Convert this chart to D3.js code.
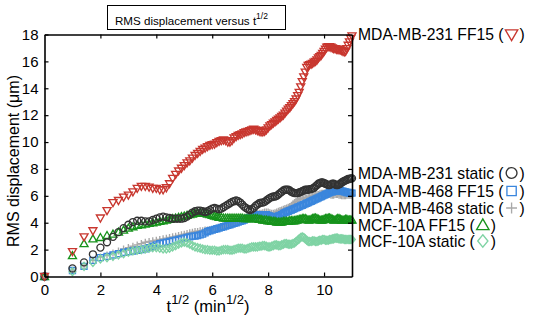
<!doctype html>
<html lang="en">
<head>
<meta charset="utf-8">
<title>RMS displacement versus t1/2</title>
<script src="https://cdnjs.cloudflare.com/ajax/libs/d3/7.8.5/d3.min.js"></script>
<style>
	body { margin: 0; background: #fff; }
	text { font-family: "Liberation Sans", Arial, sans-serif; fill: #000; }
	.axis path, .axis line { stroke: #000; }
	.tick text { font-size: 15px; }
	.mark { fill: none; stroke-width: 1.35; }
</style>
</head>
<body>
<div id="viz"></div>
<script>

// DATA
// sampling times (min), one frame per minute
var minutes = d3.range(0, 122);

var seriesNames = [
	"MDA-MB-231 FF15",
	"MDA-MB-231 static",
	"MDA-MB-468 FF15",
	"MDA-MB-468 static",
	"MCF-10A FF15",
	"MCF-10A static"
];

// RMS displacement (um) at each minute
var mda231FF15 = [0, 1.85, 2.95, 3.4, 4.35, 4.9, 5.5, 5.65, 5.9, 6.05,
	6.3, 6.55, 6.7, 6.7, 6.65, 6.55, 6.55, 6.45, 6.45, 6.6,
	6.9, 7.3, 7.6, 7.85, 8.05, 8.25, 8.45, 8.6, 8.8, 9.0,
	9.15, 9.3, 9.45, 9.55, 9.65, 9.75, 9.8, 9.85, 9.95, 10.05,
	10.1, 10.15, 10.1, 10.0, 10.0, 10.1, 10.3, 10.4, 10.5, 10.55,
	10.6, 10.7, 10.75, 10.8, 10.85, 10.9, 10.95, 10.9, 10.85, 10.8,
	10.75, 10.75, 10.8, 10.9, 11.05, 11.2, 11.3, 11.4, 11.5, 11.6,
	11.7, 11.8, 11.9, 12.0, 12.15, 12.3, 12.45, 12.55, 12.7, 12.85,
	13.0, 13.2, 13.45, 13.7, 14.1, 14.5, 14.85, 15.2, 15.55, 15.7,
	15.75, 15.8, 15.85, 15.95, 16.0, 16.1, 16.25, 16.35, 16.45, 16.6,
	16.75, 16.9, 17.05, 17.1, 17.1, 17.05, 17.0, 16.95, 16.95, 16.9,
	16.9, 16.85, 16.85, 16.8, 16.75, 16.7, 16.75, 16.95, 17.2, 17.45,
	17.7, 17.9];

var mda231Static = [0, 0.6, 1.05, 1.65, 2.15, 2.55, 2.95, 3.3, 3.6, 3.85,
	4.05, 4.15, 4.15, 4.1, 4.1, 4.2, 4.3, 4.4, 4.45, 4.4,
	4.35, 4.3, 4.3, 4.3, 4.3, 4.35, 4.45, 4.6, 4.75, 4.85,
	4.9, 4.9, 4.85, 4.8, 4.85, 4.95, 5.05, 5.1, 5.05, 5.0,
	5.05, 5.15, 5.25, 5.35, 5.45, 5.55, 5.6, 5.65, 5.6, 5.5,
	5.35, 5.2, 5.1, 5.0, 4.95, 5.0, 5.1, 5.25, 5.35, 5.45,
	5.5, 5.5, 5.55, 5.65, 5.75, 5.85, 5.9, 5.95, 5.95, 6.0,
	6.1, 6.2, 6.3, 6.4, 6.45, 6.45, 6.45, 6.4, 6.3, 6.25,
	6.2, 6.2, 6.2, 6.25, 6.3, 6.35, 6.4, 6.45, 6.45, 6.45,
	6.5, 6.5, 6.55, 6.6, 6.7, 6.8, 6.9, 6.95, 7.0, 7.0,
	6.95, 6.9, 6.85, 6.8, 6.8, 6.85, 6.9, 6.9, 6.85, 6.8,
	6.8, 6.85, 6.9, 7.0, 7.05, 7.1, 7.15, 7.2, 7.25, 7.25,
	7.3, 7.3];

var mda468FF15 = [0, 0.45, 0.75, 1.2, 1.4, 1.5, 1.6, 1.7, 1.8, 1.85,
	1.9, 1.95, 2.0, 2.05, 2.15, 2.25, 2.35, 2.45, 2.5, 2.55,
	2.6, 2.65, 2.7, 2.75, 2.8, 2.85, 2.9, 2.95, 3.0, 3.0,
	3.05, 3.1, 3.15, 3.25, 3.35, 3.4, 3.45, 3.5, 3.55, 3.6,
	3.65, 3.7, 3.75, 3.8, 3.85, 3.9, 3.95, 4.0, 4.05, 4.1,
	4.15, 4.2, 4.3, 4.35, 4.4, 4.45, 4.5, 4.55, 4.6, 4.6,
	4.6, 4.6, 4.6, 4.6, 4.55, 4.5, 4.45, 4.4, 4.4, 4.45,
	4.5, 4.55, 4.6, 4.7, 4.75, 4.8, 4.85, 4.9, 4.95, 5.0,
	5.05, 5.1, 5.15, 5.2, 5.25, 5.3, 5.35, 5.4, 5.45, 5.5,
	5.55, 5.6, 5.65, 5.7, 5.75, 5.8, 5.85, 5.9, 5.95, 6.0,
	6.05, 6.1, 6.15, 6.2, 6.25, 6.3, 6.3, 6.35, 6.35, 6.4,
	6.4, 6.4, 6.4, 6.35, 6.35, 6.3, 6.3, 6.25, 6.25, 6.2,
	6.2, 6.2];

var mda468Static = [0, 0.45, 0.8, 1.2, 1.45, 1.6, 1.75, 1.9, 2.05, 2.15,
	2.25, 2.35, 2.45, 2.55, 2.6, 2.65, 2.7, 2.75, 2.8, 2.85,
	2.9, 2.95, 3.0, 3.05, 3.1, 3.15, 3.2, 3.25, 3.3, 3.35,
	3.35, 3.4, 3.4, 3.45, 3.45, 3.5, 3.5, 3.55, 3.6, 3.65,
	3.7, 3.75, 3.8, 3.85, 3.9, 3.95, 4.0, 4.05, 4.1, 4.15,
	4.2, 4.25, 4.35, 4.45, 4.55, 4.6, 4.65, 4.7, 4.7, 4.7,
	4.7, 4.75, 4.8, 4.8, 4.8, 4.75, 4.7, 4.7, 4.75, 4.8,
	4.85, 4.9, 4.95, 5.0, 5.05, 5.1, 5.15, 5.2, 5.3, 5.4,
	5.5, 5.6, 5.7, 5.75, 5.8, 5.8, 5.8, 5.85, 5.85, 5.9,
	5.9, 5.95, 6.0, 6.0, 6.05, 6.1, 6.1, 6.15, 6.2, 6.2,
	6.2, 6.2, 6.15, 6.1, 6.1, 6.05, 6.05, 6.05, 6.1, 6.1,
	6.1, 6.05, 6.05, 6.0, 6.0, 6.0, 6.0, 6.05, 6.05, 6.05,
	6.05, 6.05];

var mcfFF15 = [0, 1.55, 2.45, 2.8, 2.9, 3.05, 3.15, 3.3, 3.45, 3.6,
	3.7, 3.8, 3.85, 3.9, 3.95, 4.0, 4.05, 4.1, 4.15, 4.2,
	4.25, 4.3, 4.35, 4.4, 4.45, 4.5, 4.55, 4.6, 4.65, 4.7,
	4.7, 4.75, 4.75, 4.7, 4.65, 4.6, 4.55, 4.5, 4.45, 4.4,
	4.4, 4.35, 4.35, 4.35, 4.35, 4.35, 4.35, 4.35, 4.35, 4.35,
	4.35, 4.3, 4.3, 4.3, 4.3, 4.3, 4.3, 4.3, 4.3, 4.25,
	4.25, 4.2, 4.2, 4.2, 4.15, 4.15, 4.1, 4.1, 4.1, 4.05,
	4.05, 4.05, 4.05, 4.1, 4.1, 4.1, 4.1, 4.15, 4.15, 4.15,
	4.15, 4.2, 4.2, 4.25, 4.25, 4.3, 4.3, 4.3, 4.25, 4.2,
	4.2, 4.25, 4.3, 4.35, 4.35, 4.3, 4.25, 4.2, 4.2, 4.2,
	4.25, 4.3, 4.3, 4.35, 4.35, 4.3, 4.25, 4.2, 4.2, 4.25,
	4.3, 4.3, 4.25, 4.2, 4.2, 4.2, 4.25, 4.25, 4.2, 4.2,
	4.2, 4.2];

var mcfStatic = [0, 0.35, 0.75, 1.05, 1.3, 1.4, 1.5, 1.6, 1.7, 1.8,
	1.9, 1.95, 2.0, 2.05, 2.1, 2.15, 2.15, 2.1, 2.05, 2.05,
	2.1, 2.2, 2.3, 2.4, 2.5, 2.55, 2.5, 2.4, 2.3, 2.2,
	2.15, 2.1, 2.05, 2.0, 2.0, 1.95, 1.95, 1.95, 1.9, 1.9,
	1.95, 2.0, 2.0, 2.0, 1.95, 1.95, 2.0, 2.05, 2.1, 2.1,
	2.1, 2.05, 2.05, 2.1, 2.15, 2.2, 2.2, 2.2, 2.2, 2.25,
	2.25, 2.3, 2.3, 2.25, 2.2, 2.2, 2.25, 2.3, 2.35, 2.35,
	2.3, 2.3, 2.35, 2.4, 2.45, 2.45, 2.4, 2.4, 2.4, 2.45,
	2.5, 2.6, 2.7, 2.8, 2.9, 2.95, 2.9, 2.8, 2.7, 2.6,
	2.6, 2.6, 2.65, 2.65, 2.6, 2.6, 2.65, 2.7, 2.7, 2.75,
	2.75, 2.7, 2.7, 2.7, 2.75, 2.75, 2.8, 2.8, 2.85, 2.85,
	2.85, 2.8, 2.8, 2.8, 2.8, 2.75, 2.75, 2.75, 2.75, 2.75,
	2.75, 2.75];

var xTicks = [0, 2, 4, 6, 8, 10];
var yTicks = [0, 2, 4, 6, 8, 10, 12, 14, 16, 18];


(function(scope, d3) {

	// Dimensions
	var w = 536,
		h = 323;
	var margin = {top: 34.5, right: 184, bottom: 46.5, left: 44.5};
	var width = w - margin.left - margin.right,
		height = h - margin.top - margin.bottom;

	// series table built from the arrays above
	var series = [
		{name: seriesNames[0], values: mda231FF15,   shape: "down",    color: "#c8372f", legendY: 40},
		{name: seriesNames[1], values: mda231Static, shape: "circle",  color: "#333333", legendY: 178.5},
		{name: seriesNames[2], values: mda468FF15,   shape: "square",  color: "#3a86dd", legendY: 196.5},
		{name: seriesNames[3], values: mda468Static, shape: "plus",    color: "#a9a9a9", legendY: 213.5},
		{name: seriesNames[4], values: mcfFF15,      shape: "up",      color: "#17931c", legendY: 230.5},
		{name: seriesNames[5], values: mcfStatic,    shape: "diamond", color: "#7fd3a4", legendY: 246.5}
	];
	// drawing order: back to front
	var drawOrder = [3, 2, 5, 4, 1, 0];

	// SYMBOLS (hollow markers, s = scale)
	function symbolPath(shape, s) {
		s = s || 1;
		var p = d3.path();
		if (shape === "down") {
			p.moveTo(-4 * s, -3 * s); p.lineTo(4 * s, -3 * s); p.lineTo(0, 4 * s); p.closePath();
		} else if (shape === "up") {
			p.moveTo(-4 * s, 3 * s); p.lineTo(4 * s, 3 * s); p.lineTo(0, -4 * s); p.closePath();
		} else if (shape === "circle") {
			p.arc(0, 0, 3.5 * s, 0, 2 * Math.PI);
		} else if (shape === "square") {
			p.rect(-3 * s, -3 * s, 6 * s, 6 * s);
		} else if (shape === "plus") {
			p.moveTo(-3.5 * s, 0); p.lineTo(3.5 * s, 0);
			p.moveTo(0, -3.5 * s); p.lineTo(0, 3.5 * s);
		} else if (shape === "diamond") {
			p.moveTo(0, -4 * s); p.lineTo(3.3 * s, 0); p.lineTo(0, 4 * s); p.lineTo(-3.3 * s, 0); p.closePath();
		}
		return p.toString();
	}

	// DRAWING AREA
	var svg = d3.select("#viz")
		.append("svg")
		.attr("width", w)
		.attr("height", h);

	var g = svg.append("g")
		.attr("transform", "translate(" + margin.left + "," + margin.top + ")");

	// SCALES
	var x = d3.scaleLinear().domain([0, 11]).range([0, width]);
	var y = d3.scaleLinear().domain([0, 18]).range([height, 0]);

	// MARKERS
	drawOrder.forEach(function(k) {
		var s = series[k];
		g.append("g")
			.selectAll("path")
			.data(minutes)
			.enter()
			.append("path")
			.attr("class", "mark")
			.attr("d", symbolPath(s.shape))
			.attr("stroke", s.color)
			.attr("transform", function(t, i) {
				return "translate(" + x(Math.sqrt(t)) + "," + y(s.values[i]) + ")";
			});
	});

	// AXES (box with inward ticks)
	var bottom = g.append("g").attr("class", "axis")
		.attr("transform", "translate(0," + height + ")")
		.call(d3.axisBottom(x).tickValues(xTicks).tickSizeInner(-4).tickSizeOuter(0).tickPadding(8));
	var top = g.append("g").attr("class", "axis")
		.call(d3.axisTop(x).tickValues(xTicks.slice(1)).tickSizeInner(-4).tickSizeOuter(0).tickFormat(""));
	var left = g.append("g").attr("class", "axis")
		.call(d3.axisLeft(y).tickValues(yTicks).tickSizeInner(-4).tickSizeOuter(0).tickPadding(6));
	var right = g.append("g").attr("class", "axis")
		.attr("transform", "translate(" + width + ",0)")
		.call(d3.axisRight(y).tickValues(yTicks.slice(1, -1)).tickSizeInner(-4).tickSizeOuter(0).tickFormat(""));

	g.selectAll(".axis path").attr("stroke-width", 1.6);
	g.selectAll(".axis line").attr("stroke-width", 1.2);
	g.selectAll(".axis .tick text").attr("fill", "#000");

	// AXIS TITLES
	svg.append("text")
		.attr("transform", "translate(19,161) rotate(-90)")
		.attr("text-anchor", "middle")
		.style("font-size", "16px")
		.text("RMS displacement (\u03bcm)");

	var xt = svg.append("text")
		.attr("x", 208)
		.attr("y", 312)
		.attr("text-anchor", "middle")
		.style("font-size", "16.5px");
	xt.append("tspan").text("t");
	xt.append("tspan").attr("dy", -8).style("font-size", "13px").text("1/2");
	xt.append("tspan").attr("dy", 8).text(" (min");
	xt.append("tspan").attr("dy", -8).style("font-size", "13px").text("1/2");
	xt.append("tspan").attr("dy", 8).text(")");

	// TITLE BOX
	svg.append("rect")
		.attr("x", 107.5)
		.attr("y", 5.5)
		.attr("width", 178)
		.attr("height", 24)
		.attr("fill", "#fff")
		.attr("stroke", "#000")
		.attr("stroke-width", 1);

	var tt = svg.append("text")
		.attr("x", 115)
		.attr("y", 24.5)
		.style("font-size", "11.6px");
	tt.append("tspan").text("RMS displacement versus t");
	tt.append("tspan").attr("dy", -6).style("font-size", "8.5px").text("1/2");

	// LEGEND LABELS at the right of the plot
	var legend = svg.append("g");
	series.forEach(function(s) {
		var lab = legend.append("text")
			.attr("x", 358)
			.attr("y", s.legendY)
			.style("font-size", "15.7px")
			.text(s.name + " (");
		var len = lab.node().getComputedTextLength();
		var cx = 358 + len + 8;
		legend.append("path")
			.attr("class", "mark")
			.attr("d", symbolPath(s.shape, 1.55))
			.attr("stroke", s.color)
			.attr("stroke-width", 2)
			.attr("transform", "translate(" + cx + "," + (s.legendY - 5.5) + ")");
		legend.append("text")
			.attr("x", cx + 8)
			.attr("y", s.legendY)
			.style("font-size", "15.7px")
			.text(")");
	});

})(window, d3);

</script>
</body>
</html>
